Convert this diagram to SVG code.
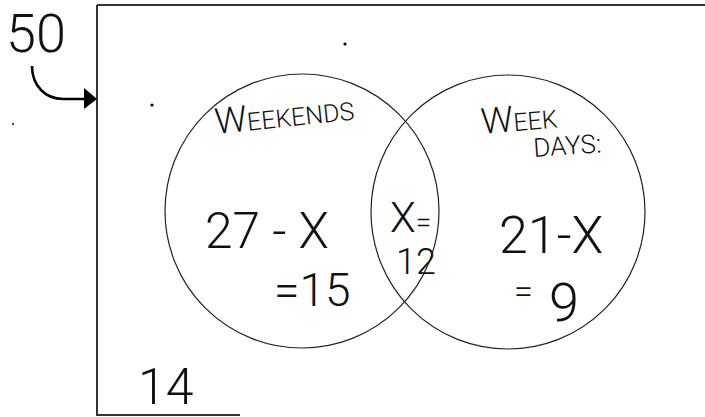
<svg xmlns="http://www.w3.org/2000/svg" width="705" height="417" viewBox="0 0 705 417">
  <defs>
    <style>
      .hand { font-family: Roboto, "Liberation Sans", sans-serif; font-weight: 300; fill: #111; }
      .set { fill: none; stroke: #222; stroke-width: 1.2; }
      .frame { fill: none; stroke: #333; stroke-width: 2; }
    </style>
  </defs>
  <rect width="705" height="417" fill="#fff"/>

  <g id="universe">
    <path class="frame" d="M97,5 H705 M97,5 V415 H240"/>
    <text class="hand" x="138" y="404" font-size="50">14</text>
  </g>

  <g id="total-label">
    <text class="hand" x="6" y="52" font-size="54">50</text>
  </g>

  <g id="connectors">
    <path d="M32,66 C32,85 45,100 65,99 L88,99" fill="none" stroke="#000" stroke-width="2.6"/>
    <path d="M84,88 L97,99 L84,109 Z" fill="#000"/>
  </g>

  <g id="weekends">
    <circle class="set" cx="302" cy="211" r="137"/>
    <text class="hand" x="216" y="134" font-size="25" transform="rotate(-6 216 134)"><tspan font-size="36">W</tspan>EEKENDS</text>
    <text class="hand" x="205" y="248" font-size="50" textLength="124" lengthAdjust="spacingAndGlyphs">27 - X</text>
    <text class="hand" x="274" y="306" font-size="46">=15</text>
  </g>

  <g id="intersection">
    <text class="hand" x="390" y="232" font-size="42">X<tspan font-size="28">=</tspan></text>
    <text class="hand" x="396" y="274" font-size="36">12</text>
  </g>

  <g id="weekdays">
    <circle class="set" cx="508" cy="212" r="137"/>
    <text class="hand" x="482" y="134" font-size="25" transform="rotate(-5 482 134)"><tspan font-size="36">W</tspan>EEK</text>
    <text class="hand" x="534" y="157" font-size="26" transform="rotate(-4 534 157)">DAYS:</text>
    <text class="hand" x="499" y="253" font-size="52">21-X</text>
    <text class="hand" x="514" y="303" font-size="34">=</text>
    <text class="hand" x="549" y="321" font-size="54">9</text>
  </g>

  <g id="specks" fill="#000">
    <circle cx="152" cy="105" r="1.6"/>
    <circle cx="345" cy="44" r="1.6"/>
    <circle cx="13" cy="124" r="1"/>
  </g>
</svg>
